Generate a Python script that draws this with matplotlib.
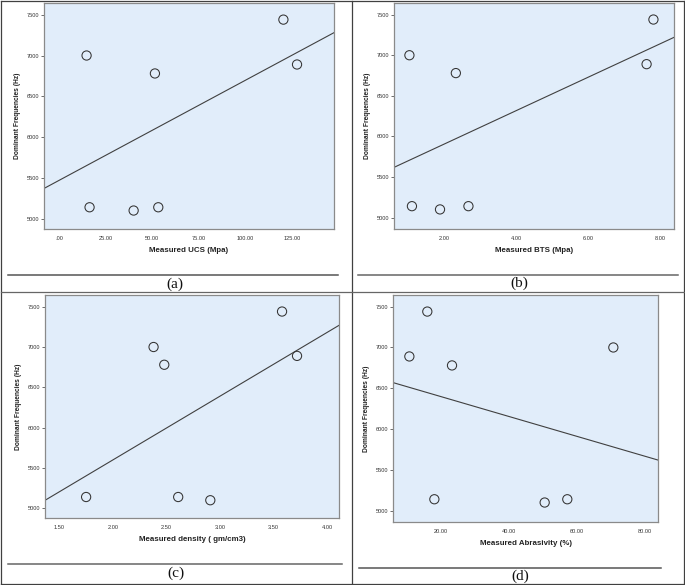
import numpy as np
import matplotlib
matplotlib.use("Agg")
import matplotlib.pyplot as plt
from matplotlib.lines import Line2D

# ---------------- data ----------------
freq = [7000, 7440, 6890, 6780, 5140, 5100, 5140]          # Dominant Frequencies (Hz)
ucs = [14.8, 120.2, 127.5, 51.4, 16.4, 40.0, 53.2]         # Measured UCS (Mpa)
bts = [1.03, 7.81, 7.62, 2.32, 1.10, 1.88, 2.67]           # Measured BTS (Mpa)

freq_c = [7000, 6780, 7440, 6890, 5140, 5140, 5100]
density = [2.38, 2.48, 3.58, 3.72, 1.75, 2.61, 2.91]       # Measured density (gm/cm3)

freq_d = [7440, 6890, 6780, 7000, 5140, 5100, 5140]
abrasivity = [15.97, 10.68, 23.25, 70.8, 18.05, 50.56, 57.23]  # Measured Abrasivity (%)

yticks = [5000, 5500, 6000, 6500, 7000, 7500]
ytick_labels = ["5000", "5500", "6000", "6500", "7000", "7500"]

xticks_a = [0, 25, 50, 75, 100, 125]
xtick_labels_a = [".00", "25.00", "50.00", "75.00", "100.00", "125.00"]
xticks_b = [2, 4, 6, 8]
xtick_labels_b = ["2.00", "4.00", "6.00", "8.00"]
xticks_c = [1.5, 2.0, 2.5, 3.0, 3.5, 4.0]
xtick_labels_c = ["1.50", "2.00", "2.50", "3.00", "3.50", "4.00"]
xticks_d = [20, 40, 60, 80]
xtick_labels_d = ["20.00", "40.00", "60.00", "80.00"]

xlabels = ["Measured UCS (Mpa)", "Measured BTS (Mpa)",
           "Measured density ( gm/cm3)", "Measured Abrasivity (%)"]
ylabel = "Dominant Frequencies (Hz)"
captions = ["(a)", "(b)", "(c)", "(d)"]

# ---------------- layout ----------------
W, H = 685, 585
fig = plt.figure(figsize=(W / 100, H / 100), dpi=100)
fig.patch.set_facecolor("white")


def rect(l, t, r, b):
    return [l / W, 1 - b / H, (r - l) / W, (b - t) / H]


panels = [
    dict(box=(44, 3.3, 334, 229.3), x=ucs, y=freq, xlim=(-8.0, 147.3), ylim=(4870, 7640),
         xt=xticks_a, xtl=xtick_labels_a),
    dict(box=(394.3, 3.3, 674.3, 229.3), x=bts, y=freq, xlim=(0.61, 8.39), ylim=(4855, 7640),
         xt=xticks_b, xtl=xtick_labels_b),
    dict(box=(45, 295, 339, 518.3), x=density, y=freq_c, xlim=(1.366, 4.112), ylim=(4876, 7645),
         xt=xticks_c, xtl=xtick_labels_c),
    dict(box=(392.7, 295, 658.3, 521.7), x=abrasivity, y=freq_d, xlim=(5.77, 84.05), ylim=(4865, 7643),
         xt=xticks_d, xtl=xtick_labels_d),
]

face = "#E1EDFA"
for i, p in enumerate(panels):
    ax = fig.add_axes(rect(*p["box"]))
    ax.set_facecolor(face)
    for s in ax.spines.values():
        s.set_color("#8a8a8a")
        s.set_linewidth(0.9)
    ax.set_xlim(*p["xlim"])
    ax.set_ylim(*p["ylim"])
    ax.scatter(p["x"], p["y"], s=44, facecolors="none", edgecolors="#333333",
               linewidths=0.75, zorder=3)
    k, b = np.polyfit(p["x"], p["y"], 1)
    xs = np.array(p["xlim"])
    ax.plot(xs, k * xs + b, color="#404040", lw=0.8, zorder=2)
    ax.set_yticks(yticks)
    ax.set_yticklabels(ytick_labels)
    ax.set_xticks(p["xt"])
    ax.set_xticklabels(p["xtl"])
    ax.tick_params(axis="y", length=2, width=0.6, color="#555555", pad=1.5,
                   labelsize=4.1, labelcolor="#333333")
    ax.tick_params(axis="x", length=0, pad=5, labelsize=4.1, labelcolor="#333333")
    for lab in ax.get_xticklabels() + ax.get_yticklabels():
        lab.set_family("Liberation Sans")
    ax.set_xlabel(xlabels[i], fontsize=5.7, fontweight="bold", family="Liberation Sans",
                  labelpad=4.5, color="#222222")
    ax.set_ylabel(ylabel, fontsize=4.8, fontweight="bold", family="Liberation Sans",
                  labelpad=4, color="#222222")

# ---------------- table borders, underlines, captions ----------------
def fline(x0, y0, x1, y1, color="#404040", lw=0.9):
    fig.add_artist(Line2D([x0 / W, x1 / W], [1 - y0 / H, 1 - y1 / H],
                          color=color, lw=lw, transform=fig.transFigure))

# outer frame and dividers
fline(1, 0.5, 684, 0.5)
fline(1, 0.5, 1, 584.3)
fline(684, 0.5, 684, 584.3)
fline(1, 584.3, 684, 584.3)
fline(351.7, 0.5, 351.7, 584.3)
fline(1, 291.7, 684, 291.7, color="#666666")

# underlines
fline(7.7, 275.3, 337.7, 275.3, color="#555555", lw=1.1)
fline(358.3, 275.0, 677.7, 275.0, color="#666666", lw=1.1)
fline(7.7, 563.7, 342.3, 563.7, color="#666666", lw=1.1)
fline(358.7, 568.3, 661, 568.3, color="#555555", lw=1.1)

cap_pos = [(175, 284), (519, 283), (176, 573), (520, 576)]
for c, (cx, cy) in zip(captions, cap_pos):
    fig.text(cx / W, 1 - cy / H, c, ha="center", va="center", fontsize=11,
             family="Liberation Serif", color="#111111")

fig.savefig("out.png", dpi=100)
